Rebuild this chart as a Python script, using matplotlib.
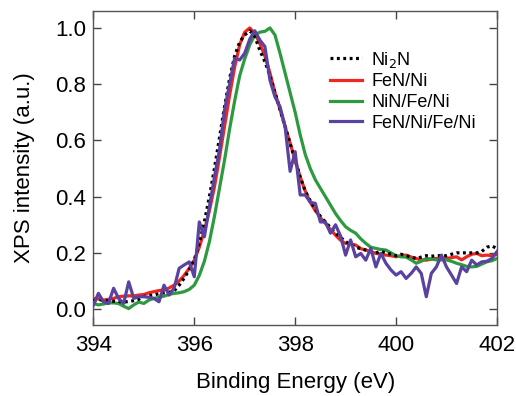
import numpy as np
import matplotlib
matplotlib.use("Agg")
import matplotlib.pyplot as plt

plt.rcParams['font.family'] = ['Liberation Sans', 'DejaVu Sans']

energy = np.round(np.arange(394.0, 402.0001, 0.1), 1)

ni2n = [0.03, 0.035, 0.03, 0.03, 0.028, 0.027, 0.025, 0.027, 0.03, 0.035,
        0.045, 0.048, 0.05, 0.055, 0.058, 0.06, 0.065, 0.085, 0.11, 0.14,
        0.175, 0.235, 0.31, 0.40, 0.50, 0.61, 0.72, 0.82, 0.90, 0.95,
        0.975, 0.99, 0.97, 0.92, 0.88, 0.83, 0.77, 0.71, 0.65, 0.59,
        0.53, 0.47, 0.42, 0.385, 0.355, 0.33, 0.31, 0.29, 0.27, 0.255,
        0.24, 0.23, 0.22, 0.215, 0.21, 0.205, 0.20, 0.205, 0.20, 0.195,
        0.19, 0.195, 0.19, 0.185, 0.18, 0.185, 0.19, 0.188, 0.19, 0.19,
        0.19, 0.195, 0.20, 0.20, 0.20, 0.20, 0.20, 0.205, 0.22, 0.225, 0.215]

fen_ni = [0.038, 0.036, 0.032, 0.035, 0.038, 0.044, 0.046, 0.047, 0.047, 0.050,
          0.052, 0.058, 0.062, 0.066, 0.068, 0.075, 0.085, 0.100, 0.120, 0.145,
          0.174, 0.22, 0.28, 0.35, 0.435, 0.54, 0.65, 0.76, 0.86, 0.94,
          0.985, 1.0, 0.98, 0.945, 0.90, 0.84, 0.77, 0.71, 0.65, 0.59,
          0.53, 0.47, 0.42, 0.38, 0.35, 0.325, 0.305, 0.283, 0.263, 0.245,
          0.234, 0.232, 0.228, 0.215, 0.21, 0.205, 0.198, 0.195, 0.192, 0.19,
          0.186, 0.19, 0.192, 0.185, 0.18, 0.175, 0.174, 0.178, 0.18, 0.178,
          0.18, 0.183, 0.186, 0.175, 0.186, 0.195, 0.198, 0.19, 0.192, 0.19, 0.195]

nin_fe_ni = [0.02, 0.015, 0.018, 0.022, 0.022, 0.02, 0.01, 0.002, 0.015, 0.025,
             0.02, 0.032, 0.038, 0.042, 0.046, 0.052, 0.056, 0.058, 0.062, 0.07,
             0.085, 0.12, 0.17, 0.24, 0.33, 0.43, 0.53, 0.64, 0.74, 0.83,
             0.89, 0.94, 0.975, 0.985, 0.988, 1.0, 0.975, 0.91, 0.84, 0.77,
             0.70, 0.62, 0.55, 0.50, 0.46, 0.43, 0.40, 0.37, 0.34, 0.315,
             0.293, 0.28, 0.27, 0.25, 0.234, 0.22, 0.216, 0.212, 0.21, 0.20,
             0.19, 0.186, 0.185, 0.175, 0.163, 0.17, 0.18, 0.178, 0.175, 0.175,
             0.175, 0.17, 0.163, 0.158, 0.152, 0.15, 0.152, 0.16, 0.168, 0.172, 0.18]

fen_ni_fe_ni = [0.014, 0.056, 0.026, 0.02, 0.074, 0.038, 0.02, 0.097, 0.038, 0.044,
                0.044, 0.042, 0.038, 0.026, 0.085, 0.05, 0.074, 0.145, 0.157, 0.168,
                0.115, 0.31, 0.257, 0.364, 0.47, 0.566, 0.708, 0.80, 0.892, 0.886,
                0.91, 0.96, 0.99, 0.957, 0.934, 0.815, 0.755, 0.72, 0.65, 0.49,
                0.56, 0.406, 0.406, 0.38, 0.376, 0.31, 0.31, 0.27, 0.30, 0.26,
                0.192, 0.246, 0.186, 0.198, 0.174, 0.216, 0.15, 0.198, 0.163, 0.139,
                0.121, 0.133, 0.109, 0.127, 0.15, 0.127, 0.044, 0.127, 0.15, 0.192,
                0.15, 0.121, 0.091, 0.15, 0.133, 0.174, 0.157, 0.168, 0.17, 0.18, 0.204]

labels = ['Ni$_2$N', 'FeN/Ni', 'NiN/Fe/Ni', 'FeN/Ni/Fe/Ni']
colors = ['#000000', '#ee2722', '#2e9a3f', '#5a42a0']
xticks = [394, 396, 398, 400, 402]
yticks = [0.0, 0.2, 0.4, 0.6, 0.8, 1.0]

fig = plt.figure(figsize=(5.16, 3.96), dpi=100)
ax = fig.add_axes([0.181, 0.179, 0.782, 0.793])

series = [ni2n, fen_ni, nin_fe_ni, fen_ni_fe_ni]
for i, (s, lab, c) in enumerate(zip(series, labels, colors)):
    if i == 0:
        ax.plot(energy, s, color=c, lw=2.3, ls=(0, (0.9, 1.1)), label=lab, zorder=5)
    else:
        ax.plot(energy, s, color=c, lw=2.3, label=lab, zorder=2 + i)

ax.set_xlim(394, 402)
ax.set_ylim(-0.057, 1.06)
ax.set_xticks(xticks)
ax.set_yticks(yticks)
ax.set_xticklabels([str(t) for t in xticks])
ax.set_yticklabels([f"{t:.1f}" for t in yticks])
ax.tick_params(direction='in', top=True, right=True, length=5.5, width=1.0,
               labelsize=16, colors='#444444', labelcolor='black')
ax.tick_params(axis='x', pad=7)
ax.tick_params(axis='y', pad=5)
for sp in ax.spines.values():
    sp.set_color('#555555')
    sp.set_linewidth(1.0)

ax.set_xlabel('Binding Energy (eV)', fontsize=16, labelpad=11.5)
ax.set_ylabel('XPS intensity (a.u.)', fontsize=16, labelpad=15)

leg = ax.legend(loc='upper left', bbox_to_anchor=(0.586, 0.877), frameon=False,
                fontsize=13, handlelength=1.8, handletextpad=0.5, labelspacing=0.2,
                borderpad=0, borderaxespad=0)

fig.savefig('out.png', dpi=100)
